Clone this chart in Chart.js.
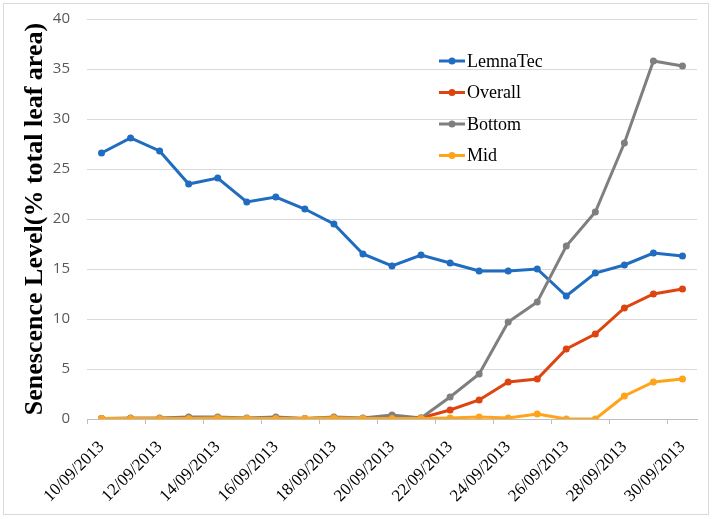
<!DOCTYPE html>
<html>
<head>
<meta charset="utf-8">
<script src="https://cdn.jsdelivr.net/npm/chart.js@4.4.0/dist/chart.umd.min.js"></script>
<style>
  html, body { margin: 0; padding: 0; background: #fff; }
  #wrap { width: 712px; height: 519px; position: relative; }
</style>
</head>
<body>
<div id="wrap"><canvas id="mycanvas"></canvas></div>
<script>
var dates = ['10/09/2013', '11/09/2013', '12/09/2013', '13/09/2013', '14/09/2013', '15/09/2013', '16/09/2013',
	'17/09/2013', '18/09/2013', '19/09/2013', '20/09/2013', '21/09/2013', '22/09/2013', '23/09/2013',
	'24/09/2013', '25/09/2013', '26/09/2013', '27/09/2013', '28/09/2013', '29/09/2013', '30/09/2013'];

var lemnaTec = [26.6, 28.1, 26.8, 23.5, 24.1, 21.7, 22.2, 21.0, 19.5, 16.5, 15.3, 16.4, 15.6, 14.8, 14.8, 15.0, 12.3, 14.6, 15.4, 16.6, 16.3];
var overall  = [0.05, 0.05, 0.05, 0.1, 0.1, 0.05, 0.1, 0.05, 0.1, 0.05, 0.1, 0.1, 0.9, 1.9, 3.7, 4.0, 7.0, 8.5, 11.1, 12.5, 13.0];
var bottom   = [0.05, 0.1, 0.1, 0.2, 0.2, 0.1, 0.2, 0.05, 0.2, 0.1, 0.4, 0.1, 2.2, 4.5, 9.7, 11.7, 17.3, 20.7, 27.6, 35.8, 35.3];
var mid      = [0.05, 0.05, 0.05, 0.05, 0.1, 0.05, 0.05, 0.05, 0.1, 0.05, 0.05, 0.05, 0.1, 0.2, 0.1, 0.5, 0, 0, 2.3, 3.7, 4.0];

var yTitle = 'Senescence Level(% total leaf area)';

function series(label, data, color, order) {
	return {
		label: label,
		data: data,
		borderColor: color,
		backgroundColor: color,
		pointBackgroundColor: color,
		pointBorderColor: color,
		borderWidth: 3,
		pointRadius: 3.5,
		pointBorderWidth: 0,
		tension: 0,
		fill: false,
		order: order
	};
}

// legend drawn inside the plot, like the original
var innerLegend = {
	id: 'innerLegend',
	afterDraw: function(chart) {
		var ctx = chart.ctx;
		var x0 = 439, y0 = 61, gap = 31.5;
		ctx.save();
		chart.data.datasets.forEach(function(ds, i) {
			var y = y0 + i * gap;
			ctx.strokeStyle = ds.borderColor;
			ctx.lineWidth = 3;
			ctx.beginPath();
			ctx.moveTo(x0, y);
			ctx.lineTo(x0 + 26, y);
			ctx.stroke();
			ctx.fillStyle = ds.borderColor;
			ctx.beginPath();
			ctx.arc(x0 + 13, y, 3.5, 0, Math.PI * 2);
			ctx.fill();
			ctx.fillStyle = '#000';
			ctx.font = '18px "Liberation Serif"';
			ctx.textBaseline = 'middle';
			ctx.fillText(ds.label, x0 + 28, y + 1);
		});
		ctx.restore();
	}
};

var frame = {
	id: 'frame',
	beforeDraw: function(chart) {
		var ctx = chart.ctx;
		ctx.save();
		ctx.fillStyle = '#fff';
		ctx.fillRect(0, 0, chart.width, chart.height);
		ctx.strokeStyle = '#d9d9d9';
		ctx.lineWidth = 1;
		ctx.strokeRect(3.5, 3.5, 705, 511);
		ctx.restore();
	}
};

var chartdata = {
	labels: dates,
	datasets: [
		series('LemnaTec', lemnaTec, '#1f6cc0', 4),
		series('Overall', overall, '#de4410', 3),
		series('Bottom', bottom, '#7f7f7f', 2),
		series('Mid', mid, '#ffa418', 1)
	]
};

var ctx = document.getElementById('mycanvas');

var LineGraph = new Chart(ctx, {
	type: 'line',
	data: chartdata,
	plugins: [frame, innerLegend],
	options: {
		responsive: true,
		maintainAspectRatio: false,
		animation: false,
		layout: { padding: { top: 19, right: 15, left: 0, bottom: 0 } },
		plugins: {
			legend: { display: false },
			tooltip: { enabled: false }
		},
		scales: {
			x: {
				offset: true,
				grid: {
					offset: true,
					drawOnChartArea: false,
					drawTicks: true,
					tickLength: 5,
					color: function(c) { return c.index % 2 === 0 ? '#bfbfbf' : 'rgba(0,0,0,0)'; }
				},
				border: { display: true, color: '#bfbfbf', width: 1 },
				ticks: {
					autoSkip: false,
					minRotation: 45,
					maxRotation: 45,
					padding: 13,
					color: '#000',
					font: { family: '"Liberation Serif"', size: 17 },
					callback: function(v, i) { return i % 2 === 0 ? this.getLabelForValue(v) : ''; }
				},
				afterFit: function(s) { s.height = 100; s.paddingLeft = 0; s.paddingRight = 0; }
			},
			y: {
				min: 0,
				max: 40,
				grid: { color: '#d9d9d9', drawTicks: false },
				border: { display: false },
				ticks: {
					stepSize: 5,
					padding: 17,
					color: '#595959',
					font: { family: '"Open Sans"', size: 15 }
				},
				title: {
					display: true,
					text: yTitle,
					color: '#000',
					padding: { top: 20, bottom: 0 },
					font: { family: '"Liberation Serif"', size: 26, weight: 'bold' }
				},
				afterFit: function(s) { s.width = 87; s.paddingTop = 0; s.paddingBottom = 0; }
			}
		}
	}
});
</script>
</body>
</html>
